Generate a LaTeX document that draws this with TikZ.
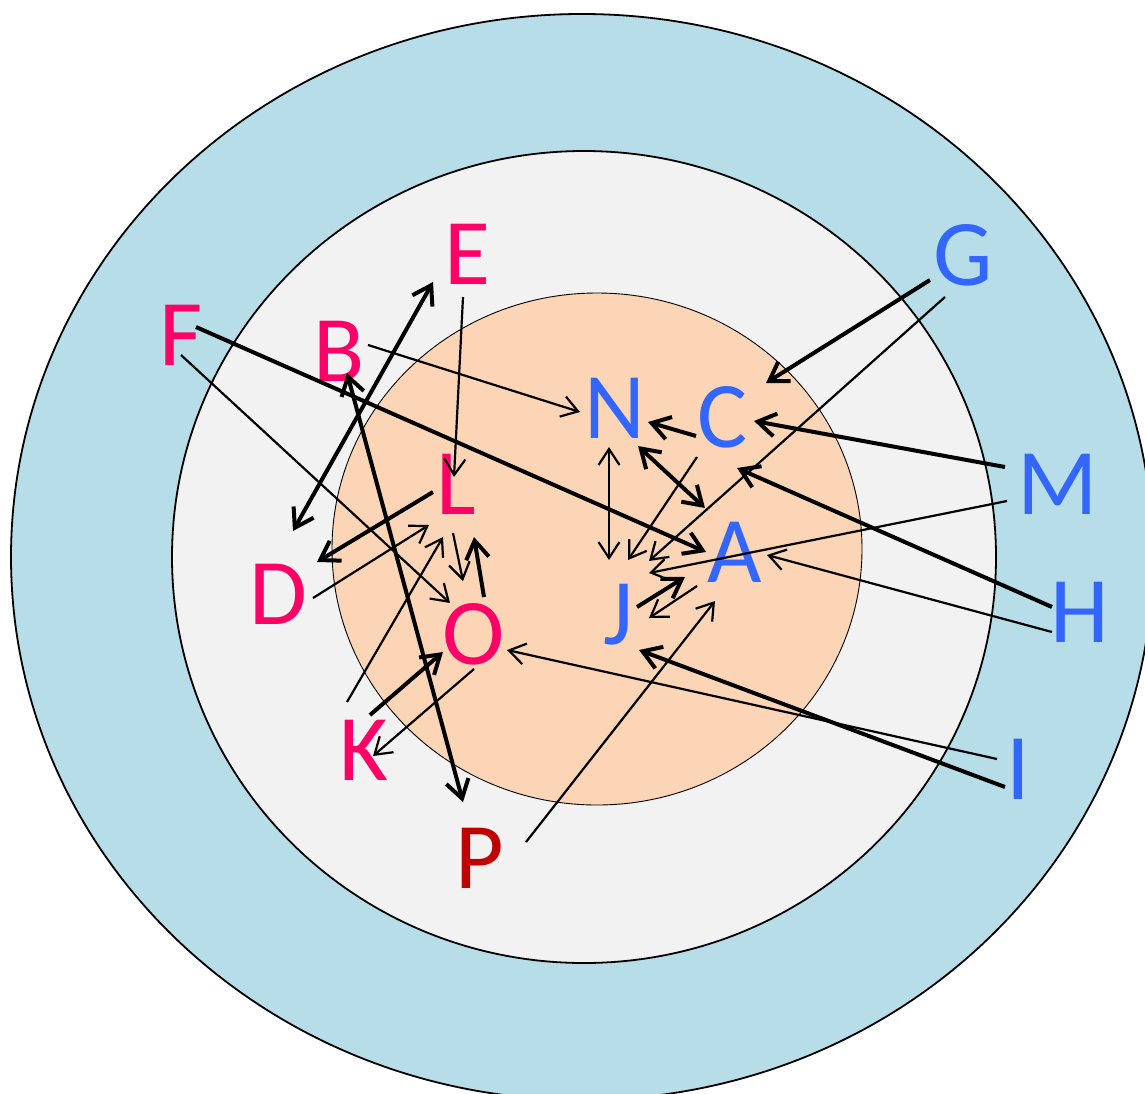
\documentclass[tikz,border=0pt]{standalone}
\usepackage{fontspec}
\setmainfont{Carlito}
\usetikzlibrary{arrows.meta}
\definecolor{ringblue}{HTML}{B7DDE8}
\definecolor{ringgray}{HTML}{F2F2F2}
\definecolor{corepeach}{HTML}{FBD5B5}
\definecolor{lblpink}{HTML}{FF0066}
\definecolor{lblblue}{HTML}{3366FF}
\definecolor{lblred}{HTML}{C00000}
\begin{document}
\begin{tikzpicture}[x=1pt,y=-1pt,
		lbl/.style={inner sep=0pt,font=\fontsize{94}{94}\selectfont},
		ln/.style={line width=2.2pt,>={Straight Barb[length=16pt,width=21pt]}},
		lnbold/.style={line width=4pt,>={Straight Barb[length=18pt,width=23pt]}}]
		\useasboundingbox (0,0) rectangle (1145,1093);
		\draw[line width=1.8pt,fill=ringblue] (582,557) ellipse [x radius=571,y radius=543];
		\draw[line width=1.8pt,fill=ringgray] (584,557) ellipse [x radius=412,y radius=406];
		\draw[line width=0.9pt,fill=corepeach] (597,549) ellipse [x radius=265,y radius=256];
		\node[lbl,lblpink] (E) at (467,254) {E};
		\node[lbl,lblpink] (F) at (181,335) {F};
		\node[lbl,lblpink] (B) at (339,351) {B};
		\node[lbl,lblpink] (L) at (456,484) {L};
		\node[lbl,lblpink] (D) at (278,594) {D};
		\node[lbl,lblpink] (O) at (474,634) {O};
		\node[lbl,lblpink] (K) at (364,750) {K};
		\node[lbl,lblred] (P) at (480,858) {P};
		\node[lbl,lblblue] (G) at (963,255) {G};
		\node[lbl,lblblue] (N) at (615,408) {N};
		\node[lbl,lblblue] (C) at (723,417) {C};
		\node[lbl,lblblue] (M) at (1058,484) {M};
		\node[lbl,lblblue] (A) at (735,552) {A};
		\node[lbl,lblblue] (J) at (618,615) {J};
		\node[lbl,lblblue] (H) at (1080,612) {H};
		\node[lbl,lblblue] (I) at (1018,769) {I};
		\draw[lnbold,->] ([shift={(15,-8)}]F.center) -- ([shift={(-29,0)}]A.center);
		\draw[ln,->] ([shift={(0,20)}]F.center) -- ([shift={(-24,-31)}]O.center);
		\draw[ln,->] ([shift={(29,-6)}]B.center) -- ([shift={(-35,4)}]N.center);
		\draw[ln,->] ([shift={(-4,43)}]E.center) -- ([shift={(-2,-7)}]L.center);
		\draw[lnbold,<->] ([shift={(-34,28)}]E.center) -- ([shift={(15,-63)}]D.center);
		\draw[lnbold,<->] ([shift={(8,22)}]B.center) -- ([shift={(-17,-56)}]P.center);
		\draw[lnbold,->] ([shift={(-23,8)}]L.center) -- ([shift={(39,-32)}]D.center);
		\draw[ln,->] ([shift={(35,4)}]D.center) -- ([shift={(-27,41)}]L.center);
		\draw[ln,->] ([shift={(-17,-48)}]K.center) -- ([shift={(-13,53)}]L.center);
		\draw[ln,->] ([shift={(-3,49)}]L.center) -- ([shift={(-11,-53)}]O.center);
		\draw[lnbold,->] ([shift={(10,-37)}]O.center) -- ([shift={(18,53)}]L.center);
		\draw[lnbold,->] ([shift={(6,-35)}]K.center) -- ([shift={(-31,18)}]O.center);
		\draw[ln,->] ([shift={(0,35)}]O.center) -- ([shift={(9,6)}]K.center);
		\draw[ln,->] ([shift={(46,-16)}]P.center) -- ([shift={(-20,49)}]A.center);
		\draw[ln,->] ([shift={(-21,-10)}]I.center) -- ([shift={(33,16)}]O.center);
		\draw[lnbold,->] ([shift={(-13,18)}]I.center) -- ([shift={(21,35)}]J.center);
		\draw[lnbold,->] ([shift={(-33,25)}]G.center) -- ([shift={(43,-34)}]C.center);
		\draw[ln,->] ([shift={(-18,42)}]G.center) -- ([shift={(31,-54)}]J.center);
		\draw[lnbold,->] ([shift={(-53,-17)}]M.center) -- ([shift={(31,4)}]C.center);
		\draw[ln,->] ([shift={(-51,17)}]M.center) -- ([shift={(31,-42)}]J.center);
		\draw[lnbold,->] ([shift={(-28,-5)}]H.center) -- ([shift={(14,51)}]C.center);
		\draw[ln,->] ([shift={(-28,20)}]H.center) -- ([shift={(32,3)}]A.center);
		\draw[lnbold,->] ([shift={(-27,19)}]C.center) -- ([shift={(33,14)}]N.center);
		\draw[lnbold,<->] ([shift={(23,38)}]N.center) -- ([shift={(-30,-44)}]A.center);
		\draw[ln,<->] ([shift={(-6,39)}]N.center) -- ([shift={(-9,-55)}]J.center);
		\draw[ln,->] ([shift={(-26,40)}]C.center) -- ([shift={(10,-55)}]J.center);
		\draw[lnbold,->] ([shift={(19,-8)}]J.center) -- ([shift={(-50,25)}]A.center);
		\draw[ln,->] ([shift={(-38,34)}]A.center) -- ([shift={(31,3)}]J.center);
\end{tikzpicture}
\end{document}
